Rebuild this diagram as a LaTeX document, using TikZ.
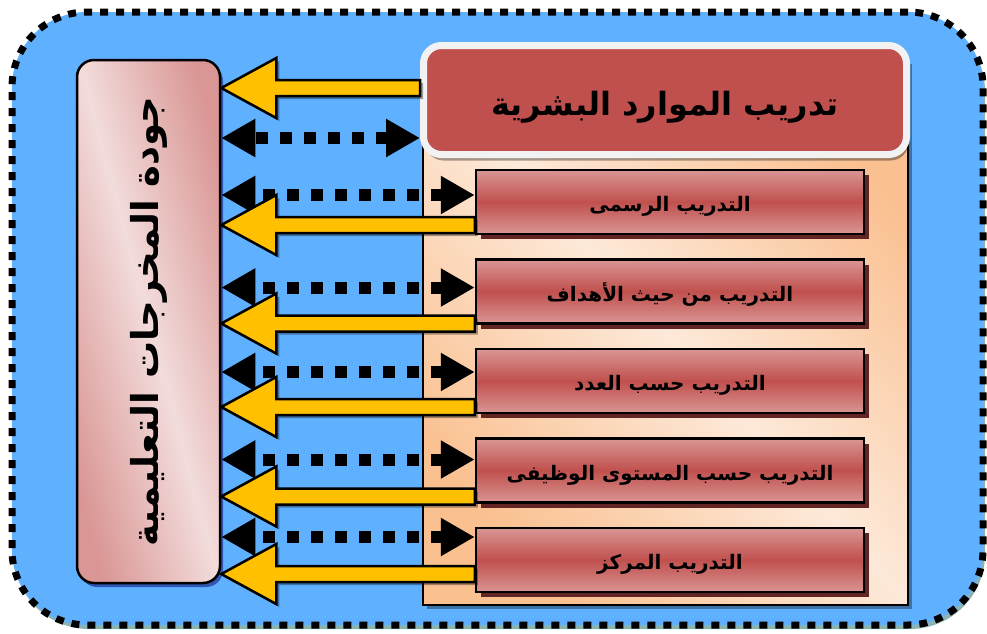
\documentclass[tikz,border=0pt]{standalone}
\usepackage{fontspec}
\newfontfamily\arabicfont[Script=Arabic]{DejaVu Sans}
\TeXXeTstate=1
\usetikzlibrary{arrows.meta,positioning,calc,shadows}

\definecolor{bgblue}{RGB}{95,176,255}
\definecolor{yell}{RGB}{255,192,0}
\definecolor{redc}{RGB}{192,80,77}
\definecolor{pinkd}{RGB}{217,150,148}
\definecolor{pinkl}{RGB}{242,220,219}
\definecolor{peachl}{RGB}{253,233,217}
\definecolor{peachd}{RGB}{250,192,144}
\definecolor{hwhite}{RGB}{242,242,242}
\definecolor{shred}{RGB}{99,37,35}

\begin{document}
\begin{tikzpicture}[x=1pt, y=-1pt,
  frame/.style={draw=black, line width=7pt, dash pattern=on 8pt off 8pt, fill=bgblue,
    rounded corners=75pt, minimum width=971pt, minimum height=613pt,
    drop shadow={shadow xshift=2pt, shadow yshift=-4pt, fill=teal!50!gray, opacity=0.6}},
  leftbox/.style={draw=black, line width=2.5pt, rounded corners=17pt, minimum width=143pt, minimum height=523pt,
    top color=pinkd, bottom color=pinkd, middle color=pinkl, shading angle=-75,
    drop shadow={shadow xshift=3pt, shadow yshift=-4pt, fill=blue!40!black, opacity=0.5}},
  panel/.style={draw=black, line width=2.5pt, minimum width=485pt, minimum height=545pt,
    top color=peachd, bottom color=peachd, middle color=peachl, shading angle=-48,
    drop shadow={shadow xshift=4pt, shadow yshift=-4pt, fill=black, opacity=0.35}},
  head/.style={draw=hwhite, line width=7pt, fill=redc, rounded corners=18pt, minimum width=483pt, minimum height=109pt,
    font=\arabicfont\bfseries\fontsize{32}{38}\selectfont, text height=30pt, text depth=0pt,
    drop shadow={shadow xshift=2pt, shadow yshift=-6pt, fill=black, opacity=0.35}},
  sub/.style={draw=black, line width=2.5pt, minimum width=388pt, minimum height=64pt,
    top color=pinkd, bottom color=pinkd, middle color=redc,
    font=\arabicfont\bfseries\fontsize{20}{24}\selectfont, text height=19pt, text depth=0pt,
    drop shadow={shadow xshift=5pt, shadow yshift=-5pt, fill=shred, opacity=1}},
  dotarr/.style={line width=12pt, dash pattern=on 12pt off 12pt,
    {Triangle[length=34pt,width=36pt]}-{Triangle[length=34pt,width=36pt]}},
  yarr/.style={draw=black, line width=2.5pt, fill=yell, line join=miter,
    drop shadow={shadow xshift=3pt, shadow yshift=-3pt, fill=black, opacity=0.35},
    to path={let \p1=(\tikztostart), \p2=(\tikztotarget) in
      (\x1,\y1+8pt) -- (\x2+55pt,\y1+8pt) -- (\x2+55pt,\y1+30pt) -- (\x2,\y1)
      -- (\x2+55pt,\y1-30pt) -- (\x2+55pt,\y1-8pt) -- (\x1,\y1-8pt) -- cycle}}
]
  \useasboundingbox (0,0) rectangle (987,633);
  \node[frame] (bg) at (497.5,318.5) {};
  \node[leftbox] (q) at (148.5,321.5) {};
  \node[rotate=90, font=\arabicfont\bfseries\fontsize{37}{44}\selectfont] (qt) at (q.center)
    {\beginR جودة المخرجات التعليمية\endR};
  \node[panel] (p) at (665.5,332.5) {};
  \node[head] (h) at (665,100) {\beginR تدريب الموارد البشرية\endR};

  \node[sub] (s1) at (670,202) {\beginR التدريب الرسمى\endR};
  \node[sub, below=23pt of s1] (s2) {\beginR التدريب من حيث الأهداف\endR};
  \node[sub, below=23pt of s2] (s3) {\beginR التدريب حسب العدد\endR};
  \node[sub, below=23pt of s3] (s4) {\beginR التدريب حسب المستوى الوظيفى\endR};
  \node[sub, below=23pt of s4] (s5) {\beginR التدريب المركز\endR};

  \coordinate (ah) at ($(h.west)+(0,-12)$);
  \coordinate (dh) at ($(h.west)+(0,38)$);
  \draw[yarr] (ah) to (q.east |- ah);
  \draw[dotarr] (dh) -- (q.east |- dh);
  \foreach \i/\dd/\da in {1/-7/23, 2/-4/32, 3/-9/26, 4/-11/26, 5/-23/14} {
    \coordinate (d\i) at ($(s\i.west)+(0,\dd)$);
    \coordinate (a\i) at ($(s\i.west)+(0,\da)$);
    \draw[dotarr] (d\i) -- (q.east |- d\i);
    \draw[yarr] (a\i) to (q.east |- a\i);
  }
\end{tikzpicture}
\end{document}
